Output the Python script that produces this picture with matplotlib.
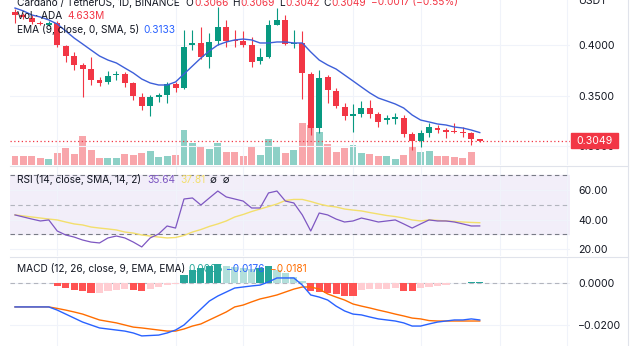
import numpy as np
import matplotlib
matplotlib.use("Agg")
import matplotlib.pyplot as plt
from matplotlib.patches import Rectangle
from matplotlib.lines import Line2D
from matplotlib.ticker import FuncFormatter

plt.rcParams['font.family'] = ['Inter', 'DejaVu Sans']

# ---- data (ADA/USDT 1D) ----
opens = [0.4327, 0.4297, 0.4267, 0.4218, 0.4198, 0.4218, 0.3990, 0.3891, 0.3802, 0.3762,
         0.3653, 0.3634, 0.3703, 0.3713, 0.3624, 0.3485, 0.3396, 0.3485, 0.3505, 0.3614,
         0.3574, 0.4000, 0.4020, 0.3881, 0.4040, 0.4178, 0.4050, 0.4040, 0.4000, 0.3842,
         0.3881, 0.4198, 0.4248, 0.4010, 0.4020, 0.3713, 0.3178, 0.3683, 0.3545, 0.3386,
         0.3297, 0.3317, 0.3376, 0.3317, 0.3257, 0.3267, 0.3277, 0.3119, 0.3050, 0.3129,
         0.3178, 0.3158, 0.3149, 0.3139, 0.3129, 0.3066]
highs = [0.4356, 0.4317, 0.4297, 0.4238, 0.4238, 0.4238, 0.4000, 0.3931, 0.3822, 0.3881,
         0.3683, 0.3743, 0.3743, 0.3733, 0.3634, 0.3525, 0.3505, 0.3525, 0.3634, 0.3634,
         0.4149, 0.4149, 0.4178, 0.4119, 0.4376, 0.4248, 0.4149, 0.4139, 0.4079, 0.3970,
         0.4248, 0.4366, 0.4297, 0.4149, 0.4139, 0.3733, 0.3752, 0.3703, 0.3574, 0.3426,
         0.3416, 0.3446, 0.3455, 0.3337, 0.3307, 0.3327, 0.3307, 0.3139, 0.3158, 0.3228,
         0.3208, 0.3178, 0.3228, 0.3188, 0.3139, 0.3069]
lows = [0.4218, 0.4257, 0.4208, 0.4198, 0.4188, 0.3980, 0.3832, 0.3752, 0.3485, 0.3604,
        0.3594, 0.3614, 0.3653, 0.3584, 0.3455, 0.3356, 0.3297, 0.3436, 0.3426, 0.3535,
        0.3564, 0.3950, 0.3861, 0.3772, 0.4000, 0.3980, 0.3980, 0.3980, 0.3782, 0.3812,
        0.3871, 0.4198, 0.4000, 0.3970, 0.3465, 0.3109, 0.3129, 0.3426, 0.3376, 0.3257,
        0.3139, 0.3287, 0.3277, 0.3188, 0.3218, 0.3218, 0.3089, 0.2960, 0.2990, 0.3089,
        0.3129, 0.3079, 0.3129, 0.3089, 0.3010, 0.3042]
closes = [0.4297, 0.4277, 0.4228, 0.4208, 0.4213, 0.4000, 0.3891, 0.3802, 0.3762, 0.3653,
          0.3624, 0.3693, 0.3713, 0.3624, 0.3495, 0.3396, 0.3485, 0.3505, 0.3614, 0.3574,
          0.3980, 0.4020, 0.3881, 0.4030, 0.4178, 0.4040, 0.4040, 0.4000, 0.3832, 0.3881,
          0.4198, 0.4248, 0.4010, 0.4020, 0.3723, 0.3178, 0.3673, 0.3554, 0.3396, 0.3297,
          0.3317, 0.3376, 0.3317, 0.3238, 0.3277, 0.3287, 0.3119, 0.3050, 0.3129, 0.3188,
          0.3158, 0.3139, 0.3139, 0.3124, 0.3069, 0.3049]
# volume in millions of ADA
volume = [90, 90, 90, 70, 60, 120, 170, 110, 290, 150, 70, 70, 70, 110, 100, 120, 140, 80,
          90, 100, 350, 220, 180, 160, 220, 130, 130, 90, 180, 100, 260, 180, 120, 150, 420,
          400, 330, 210, 130, 170, 200, 120, 110, 90, 90, 60, 100, 180, 130, 140, 90, 90, 80,
          70, 130, 4.633]
ema9 = [0.4366, 0.4337, 0.4297, 0.4277, 0.4248, 0.4208, 0.4139, 0.4069, 0.4010, 0.3950,
        0.3891, 0.3851, 0.3822, 0.3772, 0.3723, 0.3663, 0.3624, 0.3604, 0.3604, 0.3634,
        0.3713, 0.3792, 0.3871, 0.3941, 0.4000, 0.4030, 0.4050, 0.4059, 0.4050, 0.4020,
        0.4020, 0.4030, 0.4030, 0.4020, 0.4020, 0.3931, 0.3851, 0.3802, 0.3762, 0.3703,
        0.3644, 0.3584, 0.3525, 0.3475, 0.3446, 0.3416, 0.3376, 0.3307, 0.3257, 0.3238,
        0.3218, 0.3208, 0.3188, 0.3178, 0.3158, 0.3133]
rsi = [43.1, 41.7, 40.3, 39.0, 39.7, 32.2, 29.5, 28.1, 26.1, 24.7,
       24.1, 27.5, 28.8, 27.5, 24.7, 21.4, 27.5, 30.2, 35.6, 34.2,
       53.9, 54.6, 49.8, 54.6, 59.3, 55.3, 53.9, 52.5, 47.8, 47.8,
       58.0, 59.3, 52.5, 51.2, 43.1, 32.2, 44.4, 43.1, 40.3, 38.3,
       39.0, 41.0, 39.7, 38.3, 39.0, 39.7, 37.0, 34.2, 37.0, 39.7,
       39.0, 39.0, 38.3, 37.0, 35.6, 35.64]
rsi_ma = [43.1, 42.4, 41.7, 41.0, 40.3, 39.7, 38.3, 37.0, 36.3, 34.9,
          34.2, 33.6, 32.9, 31.5, 30.8, 29.5, 28.8, 28.1, 27.5, 27.8,
          29.2, 31.5, 33.2, 35.3, 37.0, 39.0, 41.7, 43.4, 45.4, 47.1,
          48.8, 50.5, 52.9, 53.6, 53.6, 52.2, 50.5, 49.2, 48.5, 47.1,
          46.4, 45.8, 44.7, 43.7, 42.7, 42.0, 41.0, 39.7, 39.0, 39.7,
          39.4, 39.0, 38.7, 38.3, 38.0, 37.81]
macd = [-0.0114, -0.0114, -0.0114, -0.0114, -0.0114, -0.0129, -0.0148, -0.0167, -0.0186, -0.0200,
        -0.0214, -0.0219, -0.0224, -0.0229, -0.0238, -0.0252, -0.0250, -0.0248, -0.0238, -0.0224,
        -0.0200, -0.0162, -0.0124, -0.0086, -0.0062, -0.0043, -0.0024, -0.0019, -0.0014, -0.0010,
        0.0005, 0.0024, 0.0024, 0.0024, -0.0010, -0.0057, -0.0067, -0.0081, -0.0110, -0.0133,
        -0.0148, -0.0152, -0.0162, -0.0171, -0.0176, -0.0181, -0.0190, -0.0205, -0.0205, -0.0195,
        -0.0186, -0.0181, -0.0176, -0.0176, -0.0171, -0.0176]
signal = [-0.0114, -0.0114, -0.0114, -0.0114, -0.0114, -0.0121, -0.0129, -0.0138, -0.0148, -0.0162,
          -0.0176, -0.0183, -0.0190, -0.0200, -0.0210, -0.0214, -0.0219, -0.0224, -0.0229, -0.0229,
          -0.0219, -0.0205, -0.0195, -0.0176, -0.0157, -0.0138, -0.0114, -0.0105, -0.0090, -0.0076,
          -0.0067, -0.0057, -0.0043, -0.0029, -0.0019, -0.0019, -0.0029, -0.0052, -0.0067, -0.0081,
          -0.0100, -0.0110, -0.0119, -0.0129, -0.0138, -0.0148, -0.0157, -0.0167, -0.0171, -0.0179,
          -0.0181, -0.0181, -0.0181, -0.0181, -0.0181, -0.0181]
hist = [-0.0001, -0.0001, -0.0001, -0.0001, -0.0001, -0.0014, -0.0024, -0.0033, -0.0038, -0.0048,
        -0.0048, -0.0038, -0.0033, -0.0029, -0.0033, -0.0038, -0.0029, -0.0019, -0.0010, -0.0005,
        0.0038, 0.0062, 0.0071, 0.0081, 0.0090, 0.0081, 0.0076, 0.0071, 0.0067, 0.0071,
        0.0081, 0.0062, 0.0048, 0.0029, 0.0010, -0.0038, -0.0043, -0.0048, -0.0052, -0.0062,
        -0.0064, -0.0033, -0.0029, -0.0029, -0.0029, -0.0024, -0.0038, -0.0040, -0.0024, -0.0019,
        -0.0014, -0.0010, -0.0002, 0.0002, 0.0004, 0.0005]
grid_x = [5, 19, 27, 40, 48, 57.4, 65.3]

# ---- styling ----
UP, DOWN = '#089981', '#f23645'
TXT = '#131722'
GRID = '#f0f3fa'
W, H = 640, 346
PANE_L, PANE_R = 10, 570

def box(top, bottom, left=PANE_L, right=PANE_R):
    return [left / W, 1 - bottom / H, (right - left) / W, (bottom - top) / H]

def px_x(p):
    # pixel column -> bar index (bar 0 sits at x=15, 8.45 px per bar)
    return (p - 15) / 8.45

fig = plt.figure(figsize=(W / 100, H / 100), dpi=100)
fig.patch.set_facecolor('white')

x = np.arange(len(closes))
o, h, l, c = map(np.array, (opens, highs, lows, closes))
up = c >= o
xlim = (px_x(PANE_L), px_x(PANE_R))

def style(ax, ticks, fmt):
    ax.set_xlim(*xlim)
    ax.set_xticks(grid_x)
    ax.tick_params(axis='x', length=0, labelbottom=False)
    ax.yaxis.tick_right()
    ax.set_yticks(ticks)
    ax.yaxis.set_major_formatter(FuncFormatter(fmt))
    ax.tick_params(axis='y', length=0, pad=6, labelsize=7.6, labelcolor=TXT)
    ax.grid(True, color=GRID, lw=0.8)
    ax.set_axisbelow(True)
    for s in ax.spines.values():
        s.set_visible(False)

# volume (behind candles)
ax_v = fig.add_axes(box(0, 165))
ax_v.set_xlim(*xlim)
ax_v.set_ylim(0, 1650)
ax_v.bar(x, volume, width=0.82, color=np.where(up, '#8dd0c6', '#f8a6ab'), zorder=2)
ax_v.axis('off')

# price pane
ax_p = fig.add_axes(box(0, 165))
ax_p.patch.set_alpha(0)
style(ax_p, [0.30, 0.35, 0.40], lambda v, p: f'{v:.4f}')
ax_p.set_ylim(0.4 - 120 / 1010, 0.4 + 45 / 1010)
col = np.where(up, UP, DOWN)
ax_p.vlines(x, l, h, colors=col, lw=0.8, zorder=3)
ax_p.bar(x, np.maximum(np.abs(c - o), 0.0004), bottom=np.minimum(o, c), width=0.7,
         color=col, zorder=4)
ax_p.plot(x, ema9, color='#3d5fd9', lw=1.0, zorder=5)
ax_p.axhline(closes[-1], color=DOWN, lw=0.9, ls=(0, (1, 2)), zorder=2)
ax_v.set_zorder(0)
ax_p.set_zorder(1)

# RSI pane
ax_r = fig.add_axes(box(166, 256))
style(ax_r, [20, 40, 60], lambda v, p: f'{v:.2f}')
ax_r.set_ylim(60 - 66 / 1.475, 60 + 24 / 1.475)
ax_r.axhspan(30, 70, color='#f2eef9', zorder=0)
for lev, cc in ((70, '#787b86'), (50, '#b2b5be'), (30, '#787b86')):
    ax_r.axhline(lev, color=cc, lw=0.8, ls=(0, (4, 3)), zorder=1)
ax_r.plot(x, rsi_ma, color='#f3df6c', lw=1.0, zorder=3)
ax_r.plot(x, rsi, color='#7e57c2', lw=0.9, zorder=4)

# MACD pane
ax_m = fig.add_axes(box(257, 346))
style(ax_m, [-0.02, 0.0],
      lambda v, p: f'{v:.4f}'.replace('-', '\u2212') if abs(v) > 1e-9 else '0.0000')
ax_m.set_ylim(-63 / 2100, 26 / 2100)
ax_m.axhline(0, color='#b2b5be', lw=0.8, ls=(0, (4, 3)), zorder=1)
hcol = []
prev = 0.0
for v in hist:
    if v >= 0:
        hcol.append('#26a69a' if v > prev else '#b2dfdb')
    else:
        hcol.append('#ff5252' if v < prev else '#ffcdd2')
    prev = v
ax_m.bar(x, hist, width=0.85, color=hcol, zorder=2)
ax_m.plot(x, signal, color='#ff6d00', lw=1.0, zorder=3)
ax_m.plot(x, macd, color='#2962ff', lw=1.0, zorder=4)

# separators and right border
for yy in (165.5, 256.5):
    fig.add_artist(Line2D([PANE_L / W, 628 / W], [1 - yy / H] * 2, color='#e0e3eb', lw=0.8))
fig.add_artist(Line2D([628 / W] * 2, [0, 1], color='#e0e3eb', lw=0.8))

# last price label
fig.add_artist(Rectangle((571 / W, 1 - 148 / H), 47 / W, 15 / H, transform=fig.transFigure,
                         color=DOWN, zorder=5))
fig.text(594.5 / W, 1 - 140.5 / H, f'{closes[-1]:.4f}', color='white', fontsize=7.6,
         ha='center', va='center', zorder=6)
fig.text(578 / W, 1 - 3.5 / H, 'USDT', color=TXT, fontsize=7.6, va='baseline')

# legends
renderer = fig.canvas.get_renderer()

def t(xp, yp, s, color=TXT, size=7.3):
    tx = fig.text(xp / W, 1 - yp / H, s, color=color, fontsize=size, va='baseline', zorder=6)
    return tx.get_window_extent(renderer).x1

end = t(17, 5.5, 'Cardano / TetherUS, 1D, BINANCE') + 6
for lab, val in (('O', '0.3066'), ('H', '0.3069'), ('L', '0.3042'), ('C', '0.3049')):
    end = t(end, 5.5, lab)
    end = t(end + 0.5, 5.5, val, DOWN) + 4
t(end + 1, 5.5, '\u22120.0017 (\u22120.55%)', DOWN)
t(17, 19, 'Vol \u00b7 ADA')
t(67, 19, '4.633M', DOWN)
t(17, 33, 'EMA (9, close, 0, SMA, 5)')
t(143, 33, f'{ema9[-1]:.4f}', '#2962ff')
t(17, 183, 'RSI (14, close, SMA, 14, 2)')
t(147, 183, f'{rsi[-1]:.2f}', '#7e57c2')
t(180, 183, f'{rsi_ma[-1]:.2f}', '#f3df6c')
t(210, 183, '\u2205  \u2205')
t(17, 272.5, 'MACD (12, 26, close, 9, EMA, EMA)')
t(188, 272.5, f'{hist[-1]:.4f}', '#26a69a')
t(226, 272.5, f'{macd[-1]:.4f}'.replace('-', '\u2212'), '#2962ff')
t(270, 272.5, f'{signal[-1]:.4f}'.replace('-', '\u2212'), '#ff6d00')

fig.savefig('out.png', dpi=100, facecolor='white')
